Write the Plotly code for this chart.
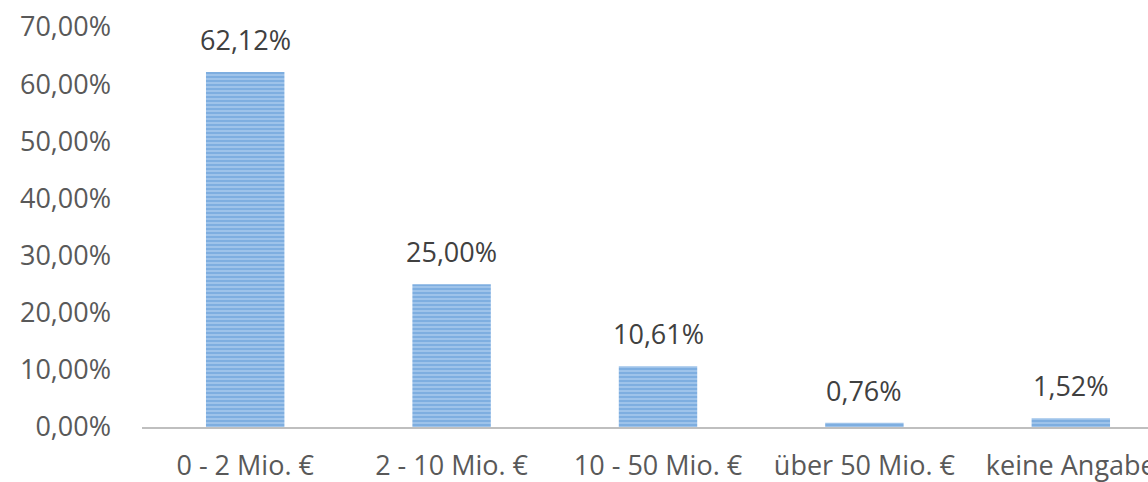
import plotly.graph_objects as go

categories = ["0 - 2 Mio. €", "2 - 10 Mio. €", "10 - 50 Mio. €", "über 50 Mio. €", "keine Angabe"]
shares = [62.12, 25.00, 10.61, 0.76, 1.52]
y_ticks = [0, 10, 20, 30, 40, 50, 60, 70]


def de_pct(v):
    return f"{v:.2f}".replace(".", ",") + "%"


FONT = "Open Sans"

fig = go.Figure(
    go.Bar(
        x=categories,
        y=shares,
        width=0.38,
        marker=dict(
            color="#5b9bd5",
            line=dict(width=0),
            pattern=dict(shape="-", fgcolor="#5594d3", bgcolor="#a6c8ec", size=4, solidity=0.6),
        ),
    )
)

# value labels above each bar
for cat, val in zip(categories, shares):
    fig.add_annotation(
        x=cat, y=val, text=de_pct(val), showarrow=False,
        yanchor="bottom", yshift=12,
        font=dict(family=FONT, size=27, color="#404040"),
    )

fig.update_layout(
    width=1148,
    height=482,
    margin=dict(l=142, r=0, t=27, b=55),
    plot_bgcolor="white",
    paper_bgcolor="white",
    showlegend=False,
    font=dict(family=FONT, size=27, color="#595959"),
)
fig.update_xaxes(
    range=[-0.5, 4.374],
    automargin=False,
    showline=True,
    linecolor="#bfbfbf",
    linewidth=2,
    ticks="",
    ticklabelstandoff=14,
    tickfont=dict(family=FONT, size=27, color="#595959"),
    showgrid=False,
)
fig.update_yaxes(
    range=[0, 70],
    automargin=False,
    tickvals=y_ticks,
    ticktext=[de_pct(v) for v in y_ticks],
    showgrid=False,
    zeroline=False,
    showline=False,
    ticklabelstandoff=30,
    tickfont=dict(family=FONT, size=27, color="#595959"),
)

fig.write_html("out.html")
